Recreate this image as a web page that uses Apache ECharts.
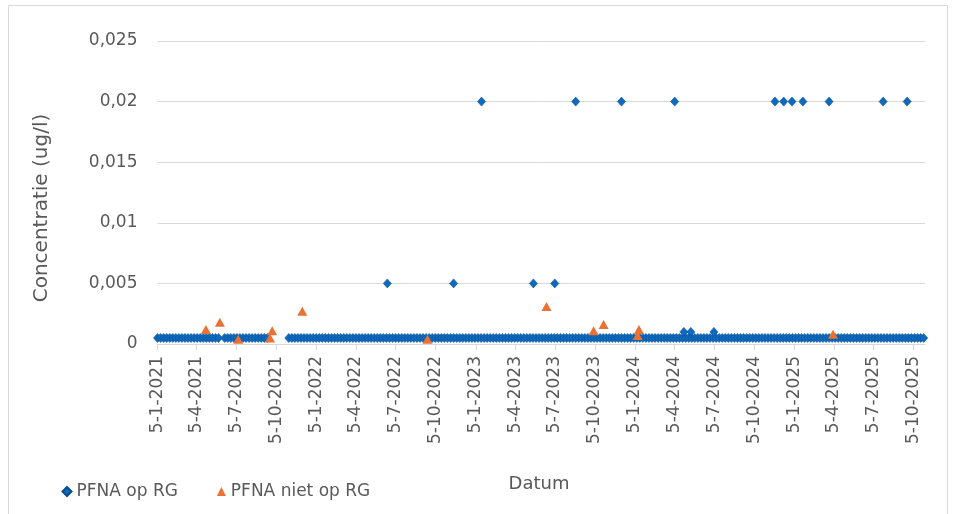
<!DOCTYPE html>
<html>
<head>
<meta charset="utf-8">
<script src="https://cdn.jsdelivr.net/npm/echarts@6/dist/echarts.min.js"></script>
<style>html,body{margin:0;padding:0;background:#fff}#c{width:956px;height:514px}</style>
</head>
<body>
<div id="c"></div>
<script>
// ---- DATA ----
var seriesNames = ['PFNA op RG', 'PFNA niet op RG'];
// x-axis tick labels (every 3 months)
var tickDates = ['2021-01-05','2021-04-05','2021-07-05','2021-10-05','2022-01-05','2022-04-05','2022-07-05','2022-10-05','2023-01-05','2023-04-05','2023-07-05','2023-10-05','2024-01-05','2024-04-05','2024-07-05','2024-10-05','2025-01-05','2025-04-05','2025-07-05','2025-10-05'];
// PFNA op RG: weekly samples at the reporting limit
var opRgLowValue = 0.0005;
var opRgLowDates = [
'2021-01-05','2021-01-12','2021-01-19','2021-01-26','2021-02-02','2021-02-09','2021-02-16','2021-02-23','2021-03-02','2021-03-09','2021-03-16','2021-03-23','2021-03-30','2021-04-06','2021-04-13','2021-04-20','2021-04-27','2021-05-04','2021-05-11','2021-05-18','2021-05-25','2021-06-08','2021-06-15','2021-06-22','2021-06-29','2021-07-06','2021-07-13','2021-07-20','2021-07-27','2021-08-03','2021-08-10','2021-08-17','2021-08-24','2021-08-31','2021-09-07','2021-09-14',
'2021-11-02','2021-11-09','2021-11-16','2021-11-23','2021-11-30','2021-12-07','2021-12-14','2021-12-21','2021-12-28',
'2022-01-04','2022-01-11','2022-01-18','2022-01-25','2022-02-01','2022-02-08','2022-02-15','2022-02-22','2022-03-01','2022-03-08','2022-03-15','2022-03-22','2022-03-29','2022-04-05','2022-04-12','2022-04-19','2022-04-26','2022-05-03','2022-05-10','2022-05-17','2022-05-24','2022-05-31','2022-06-07','2022-06-14','2022-06-21','2022-06-28','2022-07-05','2022-07-12','2022-07-19','2022-07-26','2022-08-02','2022-08-09','2022-08-16','2022-08-23','2022-08-30','2022-09-06','2022-09-13','2022-09-20','2022-09-27','2022-10-04','2022-10-11','2022-10-18','2022-10-25','2022-11-01','2022-11-08','2022-11-15','2022-11-22','2022-11-29','2022-12-06','2022-12-13','2022-12-20','2022-12-27',
'2023-01-03','2023-01-10','2023-01-17','2023-01-24','2023-01-31','2023-02-07','2023-02-14','2023-02-21','2023-02-28','2023-03-07','2023-03-14','2023-03-21','2023-03-28','2023-04-04','2023-04-11','2023-04-18','2023-04-25','2023-05-02','2023-05-09','2023-05-16','2023-05-23','2023-05-30','2023-06-06','2023-06-13','2023-06-20','2023-06-27','2023-07-04','2023-07-11','2023-07-18','2023-07-25','2023-08-01','2023-08-08','2023-08-15','2023-08-22','2023-08-29','2023-09-05','2023-09-12','2023-09-19','2023-09-26','2023-10-03','2023-10-10','2023-10-17','2023-10-24','2023-10-31','2023-11-07','2023-11-14','2023-11-21','2023-11-28','2023-12-05','2023-12-12','2023-12-19','2023-12-26',
'2024-01-02','2024-01-09','2024-01-16','2024-01-23','2024-01-30','2024-02-06','2024-02-13','2024-02-20','2024-02-27','2024-03-05','2024-03-12','2024-03-19','2024-03-26','2024-04-02','2024-04-09','2024-04-16','2024-04-23','2024-04-30','2024-05-07','2024-05-14','2024-05-21','2024-05-28','2024-06-04','2024-06-11','2024-06-18','2024-06-25','2024-07-02','2024-07-09','2024-07-16','2024-07-23','2024-07-30','2024-08-06','2024-08-13','2024-08-20','2024-08-27','2024-09-03','2024-09-10','2024-09-17','2024-09-24','2024-10-01','2024-10-08','2024-10-15','2024-10-22','2024-10-29','2024-11-05','2024-11-12','2024-11-19','2024-11-26','2024-12-03','2024-12-10','2024-12-17','2024-12-24','2024-12-31',
'2025-01-07','2025-01-14','2025-01-21','2025-01-28','2025-02-04','2025-02-11','2025-02-18','2025-02-25','2025-03-04','2025-03-11','2025-03-18','2025-03-25','2025-04-01','2025-04-08','2025-04-15','2025-04-22','2025-04-29','2025-05-06','2025-05-13','2025-05-20','2025-05-27','2025-06-03','2025-06-10','2025-06-17','2025-06-24','2025-07-01','2025-07-08','2025-07-15','2025-07-22','2025-07-29','2025-08-05','2025-08-12','2025-08-19','2025-08-26','2025-09-02','2025-09-09','2025-09-16','2025-09-23','2025-09-30','2025-10-07','2025-10-14','2025-10-21','2025-10-28'
];
// PFNA op RG: samples above the reporting limit
var opRgHighDates  = ['2022-06-16','2022-11-15','2023-01-18','2023-05-17','2023-07-05','2023-08-22','2023-12-05','2024-04-05','2024-04-26','2024-05-12','2024-07-04','2024-11-21','2024-12-11','2024-12-30','2025-01-24','2025-03-25','2025-07-27','2025-09-20'];
var opRgHighValues = [0.005,0.005,0.02,0.005,0.005,0.02,0.02,0.02,0.001,0.001,0.001,0.02,0.02,0.02,0.02,0.02,0.02,0.02];
// PFNA niet op RG
var nietOpRgDates  = ['2021-04-26','2021-05-28','2021-07-09','2021-09-20','2021-09-25','2021-12-03','2022-09-16','2023-06-16','2023-10-02','2023-10-25','2024-01-11','2024-01-14','2025-04-03'];
var nietOpRgValues = [0.0012,0.0018,0.0004,0.0005,0.0011,0.0027,0.0004,0.0031,0.0011,0.0016,0.0007,0.0012,0.0008];
var xMinDate = '2021-01-05', xMaxDate = '2025-10-31';
var yMin = 0, yMax = 0.025, yStep = 0.005;

// ---- CHART ----
function toTs(s){var p=s.split('-');return Date.UTC(+p[0],+p[1]-1,+p[2]);}
function fmtDate(v){var d=new Date(v);return d.getUTCDate()+'-'+(d.getUTCMonth()+1)+'-'+d.getUTCFullYear();}
var blueData = opRgLowDates.map(function(d){return [toTs(d), opRgLowValue];})
  .concat(opRgHighDates.map(function(d,i){return [toTs(d), opRgHighValues[i]];}));
var orangeData = nietOpRgDates.map(function(d,i){return [toTs(d), nietOpRgValues[i]];});
var ticks = tickDates.map(toTs);
var FONT = 'DejaVu Sans, sans-serif';
var TXT = '#595959';

var chart = echarts.init(document.getElementById('c'), null, {renderer:'canvas'});
chart.setOption({
  animation:false,
  backgroundColor:'#fff',
  textStyle:{fontFamily:FONT},
  grid:{left:157.5, right:31, top:41, bottom:170, containLabel:false},
  xAxis:{
    type:'value', min:toTs(xMinDate), max:toTs(xMaxDate), scale:true,
    axisLine:{show:true, onZero:false, lineStyle:{color:'#d9d9d9', width:1}},
    axisTick:{show:true, customValues:ticks, length:6, lineStyle:{color:'#d9d9d9'}},
    axisLabel:{customValues:ticks, rotate:90, margin:12, color:TXT, fontSize:17, fontFamily:FONT, formatter:function(v){return fmtDate(v);}},
    splitLine:{show:false}, minorTick:{show:false}
  },
  yAxis:{
    type:'value', min:yMin, max:yMax, interval:yStep,
    axisLine:{show:false}, axisTick:{show:false},
    axisLabel:{color:TXT, fontSize:17, fontFamily:FONT, margin:20, formatter:function(v){return String(+v.toFixed(4)).replace('.',',');}},
    splitLine:{lineStyle:{color:'#d9d9d9', width:1}}
  },
  legend:{
    left:56.5, top:478, itemWidth:9, itemHeight:9, itemGap:39,
    textStyle:{color:TXT, fontSize:17, fontFamily:FONT},
    data:[{name:seriesNames[0], icon:'diamond'},{name:seriesNames[1], icon:'triangle'}]
  },
  graphic:[
    {type:'rect', shape:{x:8.5,y:5.5,width:939,height:520}, style:{fill:'none', stroke:'#d9d9d9', lineWidth:1}, silent:true},
    {type:'text', x:42, y:208, rotation:Math.PI/2, style:{text:'Concentratie (ug/l)', fill:TXT, fontSize:20, fontFamily:FONT, align:'center', verticalAlign:'middle'}},
    {type:'text', x:539, y:484, style:{text:'Datum', fill:TXT, fontSize:18, fontFamily:FONT, align:'center', verticalAlign:'middle'}}
  ],
  series:[
    {name:seriesNames[0], type:'scatter', symbol:'diamond', symbolSize:[8,9], data:blueData,
     itemStyle:{color:'#0C6AC0', borderColor:'#0A4D8C', borderWidth:0.6, opacity:1}},
    {name:seriesNames[1], type:'scatter', symbol:'triangle', symbolSize:[10,9], data:orangeData,
     itemStyle:{color:'#E97132', opacity:1}, z:3}
  ]
});
</script>
</body>
</html>
